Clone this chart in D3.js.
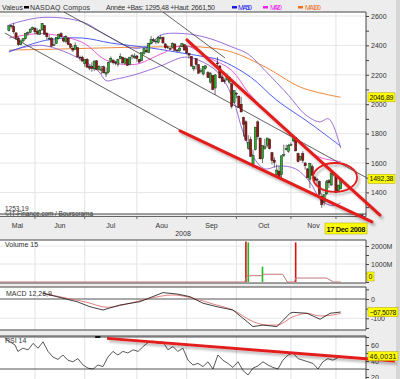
<!DOCTYPE html>
<html><head><meta charset="utf-8">
<script src="https://cdn.jsdelivr.net/npm/d3@7"></script>
<style>
html,body{margin:0;padding:0;background:#ededed;}
svg{display:block;font-family:"Liberation Sans",Arial,sans-serif;}
</style></head><body>
<svg id="c" width="400" height="379"></svg>
<script>
// ---------- DATA ----------
const seriesName = 'NASDAQ Compos';
const yearLow = 1295.48, yearHigh = 2661.50;
const maNames = ['MA50','MA20','MA100'];
const monthLabels = ['Mai','Jun','Jul','Aou','Sep','Oct','Nov','Dec'];
const yearLabel = '2008';
const cursorDate = '17 Dec 2008';
const mainMin = 1253.19, mainMax = 2627;
const firstDay = '2008-05-15';
const holidays = ['2008-05-26','2008-07-04','2008-09-01','2008-11-27'];

const opens = [2500,2535,2530,2485,2450,2405,2430,2445,2485,2488,2510,
 2518,2495,2475,2505,2535,2482,2445,2450,2400,2412,2445,2480,2450,2425,2450,2410,2380,2372,2385,2320,2320,
 2275,2305,2255,2255,2240,2295,2238,2230,2255,2205,2218,2290,2300,2288,2270,2310,2320,2278,2308,2270,2325,2315,
 2328,2305,2295,2345,2365,2352,2412,2438,2425,2420,2452,2455,2410,2390,2375,2385,2410,2368,2362,2390,2405,
 2385,2345,2325,2240,2310,2268,2222,2205,2245,2215,2150,2195,2110,2280,2260,2185,2160,2165,2150,2140,2010,
 2075,2055,2000,1910,1880,1700,1760,1590,1690,1880,1770,1630,1700,1720,1760,1670,1620,1520,1545,1520,1650,1690,1680,
 1725,1750,1775,1665,1625,1665,1600,1560,1490,1575,1505,1490,1475,1375,1335,1390,1480,1450,1525,
 1510,1410,1425];
const highs = [2536,2540,2551,2490,2462,2440,2450,2485,2495,2518,2528,
 2522,2515,2512,2552,2537,2490,2470,2455,2440,2456,2480,2490,2455,2470,2452,2414,2398,2420,2386,2330,2330,
 2306,2315,2265,2285,2296,2300,2265,2260,2262,2250,2288,2325,2305,2295,2310,2345,2322,2318,2310,2322,2340,2345,
 2335,2310,2351,2385,2385,2418,2465,2452,2445,2465,2470,2460,2415,2400,2390,2420,2412,2375,2395,2415,2406,
 2400,2350,2328,2262,2310,2272,2245,2260,2265,2225,2220,2196,2205,2320,2265,2200,2175,2210,2190,2140,2095,
 2080,2058,2050,1915,1890,1790,1780,1690,1845,1890,1772,1720,1765,1772,1768,1675,1640,1590,1580,1650,1725,1725,1730,
 1740,1785,1778,1670,1648,1680,1605,1565,1598,1590,1510,1500,1480,1395,1385,1485,1490,1535,1537,
 1512,1452,1495];
const lows = [2495,2515,2480,2435,2395,2400,2420,2440,2465,2482,2505,
 2475,2470,2470,2500,2474,2440,2435,2390,2395,2410,2440,2455,2420,2415,2402,2380,2355,2370,2320,2295,2290,
 2255,2250,2230,2220,2225,2234,2225,2205,2210,2185,2210,2280,2270,2265,2255,2305,2278,2270,2262,2268,2305,2310,
 2290,2282,2292,2335,2350,2348,2408,2425,2408,2412,2440,2410,2375,2375,2368,2384,2362,2355,2358,2388,2366,
 2340,2310,2258,2225,2235,2208,2210,2195,2235,2178,2140,2095,2065,2245,2175,2150,2140,2160,2140,1970,2005,
 2040,1975,1945,1780,1750,1690,1640,1570,1685,1760,1625,1600,1690,1705,1692,1590,1570,1510,1500,1490,1640,1685,1670,
 1715,1740,1680,1605,1615,1600,1555,1498,1430,1515,1475,1450,1385,1295,1310,1380,1430,1445,1510,
 1395,1400,1420];
const closes = [2534,2529,2492,2448,2405,2430,2445,2481,2487,2508,2523,
 2492,2480,2503,2550,2475,2459,2449,2394,2404,2455,2475,2458,2430,2462,2406,2386,2368,2401,2321,2316,2293,
 2305,2251,2245,2243,2294,2235,2258,2239,2213,2216,2285,2312,2283,2280,2304,2326,2280,2311,2264,2320,2330,2326,
 2311,2286,2350,2378,2356,2414,2440,2431,2429,2454,2453,2417,2384,2389,2380,2415,2366,2362,2382,2412,2368,
 2349,2334,2259,2256,2270,2210,2229,2258,2261,2180,2208,2099,2199,2274,2179,2153,2156,2187,2183,1984,2092,
 2069,1977,1947,1863,1755,1740,1645,1650,1844,1779,1628,1718,1711,1770,1697,1616,1604,1552,1506,1649,1657,1699,1721,
 1726,1780,1682,1609,1647,1617,1581,1499,1597,1517,1482,1483,1386,1316,1384,1472,1465,1532,1536,
 1398,1450,1492.38];

// moving averages / bands (trading-day index, value)
const ma20Idx = [0,14,31,41,53,64,74,84,94,101,108,117,123,131,140];
const ma20Vals = [2450,2480,2420,2300,2270,2340,2400,2320,2230,2080,1960,1830,1730,1640,1610];
const bandUpIdx = [0,14,31,41,53,60,64,74,84,94,101,108,118,125,131,135,140];
const bandUpVals = [2540,2590,2560,2470,2380,2410,2470,2480,2450,2390,2340,2230,2060,1930,1880,1900,1700];
const bandLoIdx = [0,14,31,38,41,45,53,64,74,80,88,94,99,104,108,114,121,127,132,137,140];
const bandLoVals = [2360,2400,2300,2220,2160,2170,2200,2260,2320,2300,2220,2060,1800,1620,1560,1580,1560,1470,1340,1310,1330];
const ma50Idx = [0,16,31,43,60,73,81,89,102,113,127,140];
const ma50Vals = [2355,2436,2450,2416,2382,2348,2327,2300,2184,2027,1871,1714];
const ma100Idx = [0,21,38,60,81,94,109,123,140];
const ma100Vals = [2368,2375,2382,2389,2389,2355,2246,2116,2046.89];

// trend lines [idx0, v0, idx1, v1]
const channelLines = [[-1.7,2484,72.2,1824],[23.2,2627,151.1,1498],[65.0,2627,91.2,2314]];
const redLines = [[75.1,2437,156.6,1246],[72.2,1818,153.2,1199]];
const circleZone = [128.3,146.9,1600,1403];

// volume
const volumeDates = ['2008-10-07','2008-10-08','2008-10-16','2008-11-05'];
const volumeM = [2250,2200,850,2200];
const volMaIdx = [-4,99.5,100.5,106.5,107,115.5,117.5,120.5,121,134,137,140];
const volMaVals = [0,0,350,350,430,430,0,0,220,220,0,0];

// MACD
const macdIdx = [14.4,22.8,28.7,34.2,39.7,46.9,55.3,62.5,65,70.9,76.4,81.9,87.8,94.5,100.5,103,107.2,113.1,118.6,119.9,125.8,131.3,135.5,140];
const macdVals = [30,4,-14,-40,-57,-31,-14,21,33,26,12,-22,-40,-57,-117,-143,-135,-143,-74,-69,-74,-105,-74,-67.5078];
const signalIdx = [14.4,24.5,32.9,41.4,49.8,58.3,69.2,77.7,86.1,94.5,103,108.9,113.1,119.9,125.8,131.3,136.7,140];
const signalVals = [30,4,-17,-43,-26,0,21,4,-26,-57,-117,-135,-135,-92,-74,-88,-83,-74];

// RSI
const rsiIdx = [-1.7,0.5,2.6,3.8,5.9,8.1,10.2,12.3,14.4,16.5,18.6,20.7,22.8,24.9,27,29.1,31.3,33.4,35.5,37.6,39.7,41.8,43.9,46,48.1,50.2,52.4,54.5,56.6,58.7,60.8,62.9,65,67.1,69.2,71.3,73.4,75.6,77.7,79.8,81.9,84,86.1,88.2,90.3,92.4,94.5,96.7,98.8,100.9,103,105.1,107.2,109.3,111.4,113.5,115.6,117.8,119.9,122,124.1,126.2,128.3,130.4,132.5,134.6,136.7,140];
const rsiVals = [68.5,64,60,52,56,54,62,56,64,52,45,42,47.5,41,39,43,35,31,30,35,33,45,52,47.5,52,50,54,52,58,63,65,62,64,54,58,52,56,41,35,37,33,39,30,47.5,41,37,32,39,28,22.5,31,34,39,35,32,30,41,47.5,50,43,41,39,37,30,39,43,41,46.0031];
const rsiTrend = [41.4,68.4,162.9,40];

// ---------- LAYOUT ----------
const W=400,H=379,PR=366;
const P = {main:[12,214], vol:[240,283], macd:[287,330], rsi:[336,379]};
const fr = d3.formatLocale({decimal:',',thousands:'',grouping:[3],currency:['','']});
const f2 = fr.format('.2f'), f4 = fr.format('.4f');

// trading days
const days=[]; {let d=new Date(firstDay+'T00:00:00Z');
 while(days.length<closes.length){const dw=d.getUTCDay(),s=d.toISOString().slice(0,10);
  if(dw!==0&&dw!==6&&!holidays.includes(s))days.push(s); d.setUTCDate(d.getUTCDate()+1);}}
const monthStarts=[]; days.forEach((s,i)=>{ if(i>0 && s.slice(5,7)!==days[i-1].slice(5,7)) monthStarts.push(i); });

const x = d3.scaleLinear().domain([0,closes.length-1]).range([8.9,340.7]);
const yM = d3.scaleLinear().domain([mainMin,mainMax]).range([P.main[1],P.main[0]]);
const yV = d3.scaleLinear().domain([0,2000]).range([282,246]);
const yD = d3.scaleLinear().domain([0,-100]).range([299,318.3]);
const yR = d3.scaleLinear().domain([60,20]).range([345,377]);

const svg=d3.select('#c');
const defs=svg.append('defs');
function clip(id,p){defs.append('clipPath').attr('id',id).append('rect').attr('x',0).attr('y',p[0]).attr('width',PR).attr('height',p[1]-p[0]);}
clip('cm',P.main);clip('cv',P.vol);clip('cd',P.macd);clip('cr',P.rsi);
const fl=defs.append('filter').attr('id','sh').attr('x','-10%').attr('y','-10%').attr('width','130%').attr('height','130%');
fl.append('feDropShadow').attr('dx',2).attr('dy',2.5).attr('stdDeviation',1.2).attr('flood-color','#000').attr('flood-opacity',0.28);

svg.append('rect').attr('width',W).attr('height',H).attr('fill','#ededed');
svg.append('rect').attr('x',396).attr('width',4).attr('height',H).attr('fill','#d6d6d6');

// panels
Object.values(P).forEach(p=>{
  svg.append('rect').attr('x',0).attr('y',p[0]).attr('width',PR).attr('height',p[1]-p[0]).attr('fill','#fff');
  monthStarts.forEach(i=>svg.append('line').attr('x1',x(i)).attr('x2',x(i)).attr('y1',p[0]).attr('y2',p[1]).attr('stroke','#e2e2e2').attr('stroke-width',1));
});
d3.range(1400,2601,200).forEach(v=>svg.append('line').attr('x1',0).attr('x2',PR).attr('y1',yM(v)).attr('y2',yM(v)).attr('stroke','#e6e6e6'));
[1000,2000].forEach(v=>svg.append('line').attr('x1',0).attr('x2',PR).attr('y1',yV(v)).attr('y2',yV(v)).attr('stroke','#e6e6e6'));
svg.append('line').attr('x1',0).attr('x2',PR).attr('y1',yD(-100)).attr('y2',yD(-100)).attr('stroke','#e6e6e6');

function txt(g,xx,yy,s,o={}){return g.append('text').attr('x',xx).attr('y',yy).text(s)
  .attr('font-size',o.fs||7).attr('fill',o.fill||'#333').attr('text-anchor',o.anchor||'start').attr('font-weight',o.fw||'normal');}

// header
txt(svg,2,9.5,'Valeus');
svg.append('rect').attr('x',24).attr('y',6).attr('width',5).attr('height',2.5).attr('fill','#000');
txt(svg,30,9.5,seriesName).attr('textLength',60);
txt(svg,106,9.5,'Année +Bas: '+f2(yearLow)+' +Haut: '+f2(yearHigh)).attr('textLength',109);
const legCol=['#1a1aee','#ee22ee','#f07020'];
[[232,238,14],[263,270,12],[298,305,16]].forEach((p,k)=>{
  svg.append('rect').attr('x',p[0]).attr('y',6).attr('width',5).attr('height',2.5).attr('fill',legCol[k]);
  txt(svg,p[1],9.5,maNames[k],{fill:legCol[k]}).attr('textLength',p[2]);
});

// main overlays
const gm=svg.append('g').attr('clip-path','url(#cm)');
const ln=(xa,ya,ys,c)=>d3.line().x((d,i)=>x(xa[i])).y((d,i)=>ys(ya[i])).curve(c||d3.curveCatmullRom);
function path(g,xa,ya,ys,col,w,c){g.append('path').attr('d',ln(xa,ya,ys,c)(xa)).attr('fill','none').attr('stroke',col).attr('stroke-width',w);}
path(gm,ma100Idx,ma100Vals,yM,'#f0863a',1);
path(gm,bandUpIdx,bandUpVals,yM,'#9a6fd8',1);
path(gm,bandLoIdx,bandLoVals,yM,'#9a6fd8',1);
path(gm,ma50Idx,ma50Vals,yM,'#4a5cf0',1);
path(gm,ma20Idx,ma20Vals,yM,'#ec5ad8',1);
channelLines.forEach(l=>gm.append('line').attr('x1',x(l[0])).attr('y1',yM(l[1])).attr('x2',x(l[2])).attr('y2',yM(l[3])).attr('stroke','#3a3a3a').attr('stroke-width',0.8));

const cg=gm.selectAll('g.c').data(closes.map((c,i)=>({i,o:opens[i],h:highs[i],l:lows[i],c}))).join('g');
cg.append('line').attr('x1',d=>x(d.i)).attr('x2',d=>x(d.i)).attr('y1',d=>yM(d.h)).attr('y2',d=>yM(d.l)).attr('stroke','#111').attr('stroke-width',0.6);
cg.append('rect').attr('x',d=>x(d.i)-1.1).attr('width',2.2).attr('y',d=>yM(Math.max(d.o,d.c)))
  .attr('height',d=>Math.max(0.8,Math.abs(yM(d.o)-yM(d.c)))).attr('fill',d=>d.c>=d.o?'#2faa2f':'#9c1414').attr('stroke','#111').attr('stroke-width',0.4);

txt(svg,5,211,f2(mainMin),{fs:6.5});
txt(svg,5,216,'©IT-Finance.com / Boursorama',{fs:6.5}).attr('textLength',88);

// borders main
svg.append('line').attr('x1',0).attr('x2',PR).attr('y1',12).attr('y2',12).attr('stroke','#444');
svg.append('line').attr('x1',0).attr('x2',PR).attr('y1',214).attr('y2',214).attr('stroke','#444');
svg.append('line').attr('x1',0).attr('x2',PR).attr('y1',216.5).attr('y2',216.5).attr('stroke','#666');
svg.append('path').attr('d',d3.line()([[358,214.5],[364,214.5],[361,218]])+'Z').attr('fill','#111');
monthStarts.forEach(i=>svg.append('line').attr('x1',x(i)).attr('x2',x(i)).attr('y1',216.5).attr('y2',219).attr('stroke','#666'));
const bnd=[0,...monthStarts.map(i=>x(i)),PR];
monthLabels.forEach((m,k)=>txt(svg,(bnd[k]+bnd[k+1])/2,227.5,m,{anchor:'middle'}));
txt(svg,183,235.5,yearLabel,{anchor:'middle'});

function axis(ys,vals,fmt,top,bottom){
  const g=svg.append('g').attr('transform',`translate(${PR},0)`).call(d3.axisRight(ys).tickValues(vals).tickFormat(fmt).tickSize(3).tickSizeOuter(0).tickPadding(2));
  g.select('.domain').remove();
  g.selectAll('line').attr('stroke','#444');
  g.selectAll('text').attr('font-size',7).attr('fill','#333').attr('font-family','Liberation Sans, Arial');
  svg.append('line').attr('x1',PR).attr('x2',PR).attr('y1',top).attr('y2',bottom).attr('stroke','#444');
}
axis(yM,d3.range(1300,2601,100),d=>d%200===0?d:'',12,216.5);

function ylabel(yy,s,w,xx=368,fw='normal'){
  svg.append('rect').attr('x',xx).attr('y',yy-4.5).attr('width',w).attr('height',9).attr('fill','#ffff00').attr('stroke','#b0a000').attr('stroke-width',0.5);
  txt(svg,xx+1.5,yy+2.6,s,{fill:'#111',fw}).attr('textLength',w-3);
}
ylabel(yM(ma100Vals[ma100Vals.length-1]),f2(ma100Vals[ma100Vals.length-1]),27);
ylabel(yM(closes[closes.length-1]),f2(closes[closes.length-1]),27);

// volume
svg.append('line').attr('x1',0).attr('x2',PR).attr('y1',P.vol[0]).attr('y2',P.vol[0]).attr('stroke','#444');
svg.append('line').attr('x1',0).attr('x2',PR).attr('y1',P.vol[1]).attr('y2',P.vol[1]).attr('stroke','#444');
const gv=svg.append('g').attr('clip-path','url(#cv)');
volumeDates.forEach((s,k)=>{const i=days.indexOf(s),up=closes[i]>=opens[i];
  gv.append('rect').attr('x',x(i)-0.8).attr('width',1.6).attr('y',yV(volumeM[k])).attr('height',yV(0)-yV(volumeM[k])).attr('fill',up?'#22bb22':'#dd1111');});
path(gv,volMaIdx,volMaVals,yV,'#c07878',1,d3.curveLinear);
txt(svg,5,247,'Volume 15');
axis(yV,[0,500,1000,1500,2000],d=>d>0&&d%1000===0?d+'M':'',P.vol[0],P.vol[1]);
ylabel(276.5,'0',7,367);

// MACD
svg.append('line').attr('x1',0).attr('x2',PR).attr('y1',P.macd[0]).attr('y2',P.macd[0]).attr('stroke','#444');
svg.append('line').attr('x1',0).attr('x2',PR).attr('y1',P.macd[1]).attr('y2',P.macd[1]).attr('stroke','#444');
svg.append('line').attr('x1',0).attr('x2',PR).attr('y1',yD(0)).attr('y2',yD(0)).attr('stroke','#555');
const gd=svg.append('g').attr('clip-path','url(#cd)');
path(gd,signalIdx,signalVals,yD,'#e07070',0.9,d3.curveMonotoneX);
path(gd,macdIdx,macdVals,yD,'#111',0.8,d3.curveLinear);
txt(svg,6,296,'MACD 12,26,9');
axis(yD,[50,0,-50,-100,-150],d=>d===0||d===-100?d:'',P.macd[0],P.macd[1]);
ylabel(yD(macdVals[macdVals.length-1]),f4(macdVals[macdVals.length-1]),30);

// RSI
svg.append('line').attr('x1',0).attr('x2',PR).attr('y1',P.rsi[0]).attr('y2',P.rsi[0]).attr('stroke','#444');
[70,30].forEach(v=>svg.append('line').attr('x1',0).attr('x2',PR).attr('y1',yR(v)).attr('y2',yR(v)).attr('stroke','#555'));
const gr=svg.append('g').attr('clip-path','url(#cr)');
path(gr,rsiIdx,rsiVals,yR,'#111',0.7,d3.curveLinear);
svg.append('line').attr('x1',x(36.4)).attr('x2',x(38.6)).attr('y1',yR(70)).attr('y2',yR(70)).attr('stroke','#111').attr('stroke-width',2);
txt(svg,5,343,'RSI 14');
axis(yR,[70,60,50,40,30,20],d=>d%20===0?d:'',P.rsi[0],P.rsi[1]);

// red annotations
const ga=svg.append('g').attr('filter','url(#sh)');
redLines.forEach(l=>ga.append('line').attr('x1',x(l[0])).attr('y1',yM(l[1])).attr('x2',x(l[2])).attr('y2',yM(l[3])).attr('stroke','#e31b1b').attr('stroke-width',3).attr('stroke-linecap','round'));
const [ci0,ci1,cv0,cv1]=circleZone;
ga.append('ellipse').attr('cx',(x(ci0)+x(ci1))/2).attr('cy',(yM(cv0)+yM(cv1))/2).attr('rx',(x(ci1)-x(ci0))/2).attr('ry',(yM(cv1)-yM(cv0))/2).attr('fill','none').attr('stroke','#e31b1b').attr('stroke-width',1.8);
ga.append('line').attr('x1',x(rsiTrend[0])).attr('y1',yR(rsiTrend[1])).attr('x2',x(rsiTrend[2])).attr('y2',yR(rsiTrend[3])).attr('stroke','#e31b1b').attr('stroke-width',2.8);
ylabel(yR(rsiVals[rsiVals.length-1]),f4(rsiVals[rsiVals.length-1]),30);

// cursor date
svg.append('rect').attr('x',325).attr('y',223).attr('width',42).attr('height',11).attr('fill','#ffff00').attr('stroke','#b0a000').attr('stroke-width',0.5);
txt(svg,346,231.5,cursorDate,{anchor:'middle',fill:'#111',fw:'bold',fs:7.5}).attr('textLength',39);
</script>
</body></html>
